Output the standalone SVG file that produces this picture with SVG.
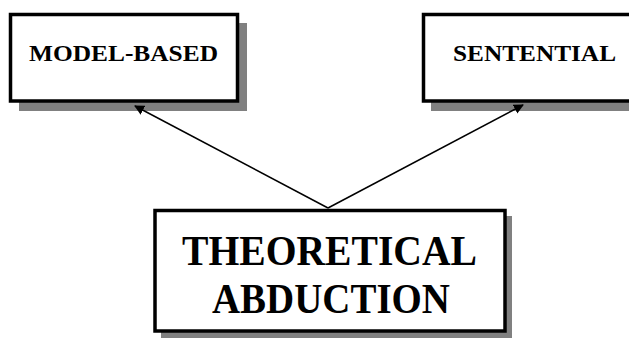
<svg xmlns="http://www.w3.org/2000/svg" width="629" height="340" viewBox="0 0 629 340">
  <style>
    .shadow { fill: #808080; stroke: none; }
    .box { fill: #ffffff; stroke: #000000; stroke-width: 3.5; }
    .label { font-family: "Liberation Serif", "Times New Roman", serif; font-weight: bold; fill: #000000; text-anchor: middle; }
    .small { font-size: 22.5px; }
    .big { font-size: 42px; }
    .edge { stroke: #000000; stroke-width: 1.5; fill: none; marker-end: url(#arrow); }
  </style>
  <defs>
    <marker id="arrow" viewBox="0 0 10 10" refX="9" refY="5" markerWidth="10" markerHeight="10" markerUnits="userSpaceOnUse" orient="auto">
      <path d="M0,0 L10,5 L0,10 Z" fill="#000000"/>
    </marker>
  </defs>
  <rect width="629" height="340" fill="#ffffff"/>

  <g id="node-model-based">
    <rect class="shadow" x="19" y="23" width="228" height="88"/>
    <rect class="box" x="10.5" y="14.5" width="227" height="86.5"/>
    <text class="label small" x="123.5" y="61" textLength="189" lengthAdjust="spacingAndGlyphs">MODEL-BASED</text>
  </g>

  <g id="node-sentential">
    <rect class="shadow" x="431" y="23" width="210" height="88"/>
    <rect class="box" x="423.5" y="14.5" width="220" height="86.5"/>
    <text class="label small" x="534.5" y="61" textLength="163" lengthAdjust="spacingAndGlyphs">SENTENTIAL</text>
  </g>

  <g id="node-theoretical-abduction">
    <rect class="shadow" x="161" y="216" width="351" height="122"/>
    <rect class="box" x="155" y="210.5" width="350" height="120.5"/>
    <text class="label big" x="329.5" y="265" textLength="295" lengthAdjust="spacingAndGlyphs">THEORETICAL</text>
    <text class="label big" x="331" y="313" textLength="238" lengthAdjust="spacingAndGlyphs">ABDUCTION</text>
  </g>

  <g id="connectors">
    <line class="edge" x1="328" y1="208" x2="135" y2="106"/>
    <line class="edge" x1="328" y1="208" x2="523" y2="105"/>
  </g>
</svg>
